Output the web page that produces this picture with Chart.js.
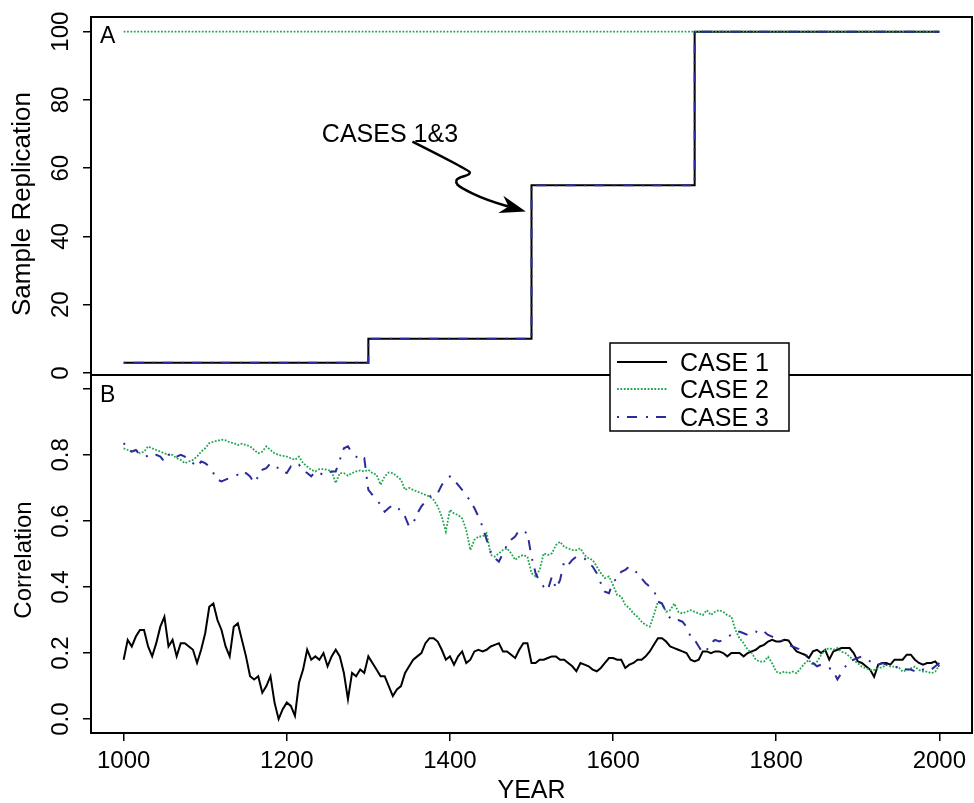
<!DOCTYPE html>
<html>
<head>
<meta charset="utf-8">
<script src="https://cdn.jsdelivr.net/npm/chart.js@4.4.1/dist/chart.umd.min.js"></script>
<style>
  html, body { margin: 0; padding: 0; background: #fff; }
  canvas { display: block; }
</style>
</head>
<body>
<canvas id="grafico" width="974" height="803"></canvas>
<script>
// anos (eixo x), um ponto a cada 5 anos
var anos = []
for (var a = 1000; a <= 2000; a += 5) anos.push(a)

var nomesCasos = ['CASE 1', 'CASE 2', 'CASE 3']
var coresCasos = ['#000000', '#1fa84f', '#2b2b9b']

// painel A: replicacao da amostra (degraus)
var anosReplicacao = [1000, 1300, 1500, 1700, 2000]
var replicacaoCaso1 = [3, 10, 55, 100, 100]
var replicacaoCaso2 = [100, 100, 100, 100, 100]
var replicacaoCaso3 = [3, 10, 55, 100, 100]

// painel B: correlacao
var correlacaoCaso1 = [
  .18,.24,.22,.25,.27,.27,.22,.19,.23,.28,
  .31,.22,.24,.19,.23,.23,.22,.21,.17,.21,
  .26,.34,.35,.30,.27,.22,.19,.28,.29,.24,
  .19,.13,.12,.13,.08,.10,.13,.05,.00,.03,
  .05,.04,.01,.11,.15,.21,.18,.19,.18,.20,
  .16,.19,.21,.19,.14,.06,.14,.13,.15,.14,
  .19,.17,.15,.13,.13,.10,.07,.09,.10,.14,
  .16,.18,.19,.20,.23,.245,.245,.235,.21,.18,
  .19,.165,.19,.205,.17,.18,.205,.21,.205,.21,
  .22,.225,.23,.205,.205,.195,.185,.21,.23,.23,
  .17,.17,.18,.18,.185,.19,.19,.18,.18,.17,
  .16,.145,.17,.165,.16,.15,.145,.155,.17,.185,
  .185,.18,.18,.155,.165,.17,.18,.18,.19,.205,
  .225,.245,.245,.235,.22,.215,.21,.205,.2,.18,
  .175,.18,.205,.205,.2,.205,.205,.2,.19,.2,
  .2,.2,.19,.2,.205,.21,.22,.225,.235,.24,
  .235,.235,.24,.238,.22,.205,.2,.195,.185,.205,
  .21,.2,.21,.18,.205,.21,.215,.215,.215,.2,
  .175,.17,.16,.15,.128,.165,.17,.17,.165,.18,
  .18,.18,.195,.195,.18,.17,.165,.17,.17,.175,
  .16
]
var correlacaoCaso2 = [
  .82,.815,.81,.815,.805,.81,.826,.82,.815,.81,
  .805,.80,.80,.79,.785,.775,.78,.785,.795,.81,
  .82,.836,.84,.843,.846,.844,.838,.836,.83,.834,
  .83,.826,.815,.805,.81,.826,.815,.805,.80,.797,
  .795,.79,.785,.795,.775,.765,.755,.75,.757,.757,
  .755,.75,.715,.745,.745,.737,.745,.75,.753,.75,
  .755,.745,.74,.71,.735,.747,.745,.735,.725,.694,
  .70,.694,.689,.684,.679,.674,.664,.644,.613,.568,
  .634,.623,.618,.608,.573,.512,.543,.553,.553,.563,
  .497,.492,.502,.512,.517,.502,.482,.492,.497,.492,
  .442,.432,.452,.502,.497,.502,.527,.537,.522,.517,
  .512,.512,.517,.497,.487,.482,.462,.442,.427,.432,
  .406,.376,.371,.346,.336,.32,.31,.295,.285,.28,
  .315,.356,.35,.325,.33,.35,.325,.32,.325,.33,
  .325,.32,.315,.33,.315,.325,.33,.325,.315,.31,
  .27,.245,.23,.21,.2,.18,.174,.174,.189,.169,
  .144,.139,.144,.139,.144,.139,.154,.169,.179,.164,
  .174,.194,.21,.215,.21,.215,.204,.2,.189,.179,
  .169,.159,.154,.149,.149,.154,.157,.164,.159,.159,
  .157,.144,.149,.154,.159,.149,.144,.144,.139,.144,
  .164
]
var correlacaoCaso3 = [
  .836,.82,.81,.815,.80,.795,.797,.795,.80,.795,
  .78,.80,.805,.795,.80,.795,.78,.775,.765,.78,
  .775,.765,.745,.725,.72,.725,.73,.735,.74,.735,
  .745,.735,.715,.735,.755,.76,.775,.765,.76,.75,
  .745,.765,.76,.77,.755,.745,.735,.75,.745,.74,
  .745,.75,.75,.785,.82,.826,.805,.795,.785,.79,
  .694,.679,.664,.649,.628,.639,.649,.644,.628,.613,
  .583,.593,.623,.644,.659,.674,.679,.684,.709,.724,
  .735,.724,.709,.694,.679,.659,.639,.613,.583,.543,
  .507,.487,.477,.502,.527,.543,.553,.573,.568,.563,
  .492,.442,.416,.401,.391,.432,.396,.421,.477,.467,
  .482,.492,.492,.487,.472,.462,.442,.411,.386,.381,
  .416,.426,.446,.452,.462,.452,.442,.426,.411,.401,
  .391,.356,.35,.325,.305,.30,.30,.295,.28,.25,
  .24,.22,.20,.21,.23,.24,.235,.24,.25,.255,
  .26,.265,.26,.255,.265,.265,.26,.265,.255,.25,
  .245,.24,.235,.225,.22,.215,.21,.20,.185,.17,
  .16,.165,.16,.155,.145,.12,.14,.16,.175,.18,
  .185,.19,.185,.175,.17,.165,.17,.165,.16,.155,
  .16,.155,.15,.15,.145,.14,.15,.15,.15,.16,
  .17
]

// ticks
var ticksAnos = [1000, 1200, 1400, 1600, 1800, 2000]
var ticksReplicacao = [0, 20, 40, 60, 80, 100]
var rotulosReplicacao = ['0', '20', '40', '60', '80', '100']
var ticksCorrelacao = [0, 0.2, 0.4, 0.6, 0.8, 1.0]
var rotulosCorrelacao = ['0.0', '0.2', '0.4', '0.6', '0.8', '']

// anotacao "CASES 1&3" (coordenadas em unidades dos dados: ano, replicacao)
var textoAnotacao = 'CASES 1&3'
var posTextoAnotacao = [1243, 67.7]
var caminhoSeta = [[1354, 67.8], [1423, 59.5], [1425.5, 58.2], [1409, 57.1], [1407, 55.8], [1412, 54.4], [1444, 50.7], [1493, 47.3]]

function pontos(xs, ys) {
  var r = []
  for (var i = 0; i < xs.length; i++) r.push({ x: xs[i], y: ys[i] })
  return r
}

var tracos = [[], [1.8, 1.6], [2, 8, 10, 9]]
var larguras = [2, 1.8, 2]

function serie(indice, dados, eixo, degrau) {
  return {
    label: nomesCasos[indice],
    data: dados,
    yAxisID: eixo,
    borderColor: coresCasos[indice],
    borderWidth: larguras[indice],
    borderDash: tracos[indice],
    borderCapStyle: 'butt',
    pointRadius: 0,
    fill: false,
    tension: 0,
    stepped: degrau,
    order: 3 - indice
  }
}

function fixarTicks(lista) {
  return function (escala) {
    escala.ticks = lista.map(function (v) { return { value: v } })
  }
}

var gradeEixo = { drawOnChartArea: false, drawTicks: true, tickLength: 8, color: '#000', lineWidth: 1.5 }
var bordaEixo = { display: true, color: '#000', width: 2 }

var fonte = '"Liberation Sans", Arial, Helvetica, sans-serif'

var desenhos = {
  id: 'desenhos',
  afterDraw: function (chart) {
    var ctx = chart.ctx
    var sx = chart.scales.x, sa = chart.scales.yA, sb = chart.scales.yB
    var esq = chart.chartArea.left, dir = chart.chartArea.right

    ctx.save()
    ctx.strokeStyle = '#000'
    ctx.lineWidth = 2
    ctx.strokeRect(esq, sa.top, dir - esq, sa.bottom - sa.top)
    ctx.strokeRect(esq, sb.top, dir - esq, sb.bottom - sb.top)

    ctx.fillStyle = '#000'
    // rotulos do eixo x
    ctx.font = '24px ' + fonte
    ctx.textAlign = 'center'
    ctx.textBaseline = 'alphabetic'
    ticksAnos.forEach(function (v) {
      ctx.fillText(String(v), sx.getPixelForValue(v), sb.bottom + 35)
    })
    ctx.font = '25px ' + fonte
    ctx.fillText('YEAR', (esq + dir) / 2, sb.bottom + 65)

    // rotulos dos eixos y (girados)
    function rotuloGirado(txt, x, y, tam) {
      ctx.save()
      ctx.font = tam + 'px ' + fonte
      ctx.translate(x, y)
      ctx.rotate(-Math.PI / 2)
      ctx.textAlign = 'center'
      ctx.fillText(txt, 0, 0)
      ctx.restore()
    }
    ticksReplicacao.forEach(function (v, i) {
      rotuloGirado(rotulosReplicacao[i], esq - 23, sa.getPixelForValue(v), 24)
    })
    ticksCorrelacao.forEach(function (v, i) {
      if (rotulosCorrelacao[i]) rotuloGirado(rotulosCorrelacao[i], esq - 23, sb.getPixelForValue(v), 24)
    })
    rotuloGirado('Sample Replication', esq - 61, (sa.top + sa.bottom) / 2 + 8, 26)
    rotuloGirado('Correlation', esq - 60, (sb.top + sb.bottom) / 2 + 6, 24)

    // letras dos paineis
    ctx.font = '23px ' + fonte
    ctx.textAlign = 'left'
    ctx.fillText('A', esq + 9, sa.top + 26)
    ctx.fillText('B', esq + 9, sb.top + 27)

    // anotacao com seta
    ctx.font = '25px ' + fonte
    ctx.fillText(textoAnotacao, sx.getPixelForValue(posTextoAnotacao[0]), sa.getPixelForValue(posTextoAnotacao[1]))
    var p = caminhoSeta.map(function (c) { return [sx.getPixelForValue(c[0]), sa.getPixelForValue(c[1])] })
    ctx.lineWidth = 2.5
    ctx.beginPath()
    ctx.moveTo(p[0][0], p[0][1])
    for (var i = 1; i < p.length - 1; i++) {
      var mx = (p[i][0] + p[i + 1][0]) / 2, my = (p[i][1] + p[i + 1][1]) / 2
      ctx.quadraticCurveTo(p[i][0], p[i][1], mx, my)
    }
    var ponta = p[p.length - 1], antes = p[p.length - 2]
    var ang = Math.atan2(ponta[1] - antes[1], ponta[0] - antes[0])
    var baseX = ponta[0] - 18 * Math.cos(ang), baseY = ponta[1] - 18 * Math.sin(ang)
    ctx.lineTo(baseX, baseY)
    ctx.stroke()
    ctx.beginPath()
    ctx.moveTo(ponta[0], ponta[1])
    ctx.lineTo(ponta[0] - 26 * Math.cos(ang) + 9 * Math.sin(ang), ponta[1] - 26 * Math.sin(ang) - 9 * Math.cos(ang))
    ctx.lineTo(baseX, baseY)
    ctx.lineTo(ponta[0] - 26 * Math.cos(ang) - 9 * Math.sin(ang), ponta[1] - 26 * Math.sin(ang) + 9 * Math.cos(ang))
    ctx.closePath()
    ctx.fill()

    // legenda
    var lx = 610, ly = sb.top - 32, lw = 179, lh = 88
    ctx.fillStyle = '#fff'
    ctx.fillRect(lx, ly, lw, lh)
    ctx.strokeStyle = '#000'
    ctx.lineWidth = 1.5
    ctx.strokeRect(lx, ly, lw, lh)
    var linhasY = [19, 46, 74]
    nomesCasos.forEach(function (nome, i) {
      ctx.save()
      ctx.strokeStyle = coresCasos[i]
      ctx.lineWidth = larguras[i]
      ctx.setLineDash(tracos[i])
      ctx.lineCap = 'butt'
      ctx.beginPath()
      ctx.moveTo(lx + 7, ly + linhasY[i])
      ctx.lineTo(lx + 57, ly + linhasY[i])
      ctx.stroke()
      ctx.restore()
      ctx.fillStyle = '#000'
      ctx.font = '25px ' + fonte
      ctx.textAlign = 'left'
      ctx.fillText(nome, lx + 70, ly + linhasY[i] + 9)
    })
    ctx.restore()
  }
}

var grafico = new Chart(document.getElementById('grafico'), {
  type: 'line',
  data: {
    datasets: [
      serie(0, pontos(anosReplicacao, replicacaoCaso1), 'yA', true),
      serie(1, pontos(anosReplicacao, replicacaoCaso2), 'yA', true),
      serie(2, pontos(anosReplicacao, replicacaoCaso3), 'yA', true),
      serie(0, pontos(anos, correlacaoCaso1), 'yB', false),
      serie(1, pontos(anos, correlacaoCaso2), 'yB', false),
      serie(2, pontos(anos, correlacaoCaso3), 'yB', false)
    ]
  },
  options: {
    responsive: false,
    animation: false,
    devicePixelRatio: 1,
    layout: { padding: { left: 83, right: 2, top: 17, bottom: 62 } },
    plugins: { legend: { display: false }, tooltip: { enabled: false } },
    scales: {
      x: {
        type: 'linear', min: 960, max: 2040,
        afterBuildTicks: fixarTicks(ticksAnos),
        grid: gradeEixo, border: bordaEixo,
        ticks: { display: false }
      },
      yB: {
        type: 'linear', position: 'left', stack: 'paineis', stackWeight: 1,
        min: -0.042, max: 1.042,
        afterBuildTicks: fixarTicks(ticksCorrelacao),
        grid: gradeEixo, border: bordaEixo,
        ticks: { display: false }
      },
      yA: {
        type: 'linear', position: 'left', stack: 'paineis', stackWeight: 1,
        min: -0.6, max: 104.3,
        afterBuildTicks: fixarTicks(ticksReplicacao),
        grid: gradeEixo, border: bordaEixo,
        ticks: { display: false }
      }
    }
  },
  plugins: [desenhos]
});
</script>
</body>
</html>
